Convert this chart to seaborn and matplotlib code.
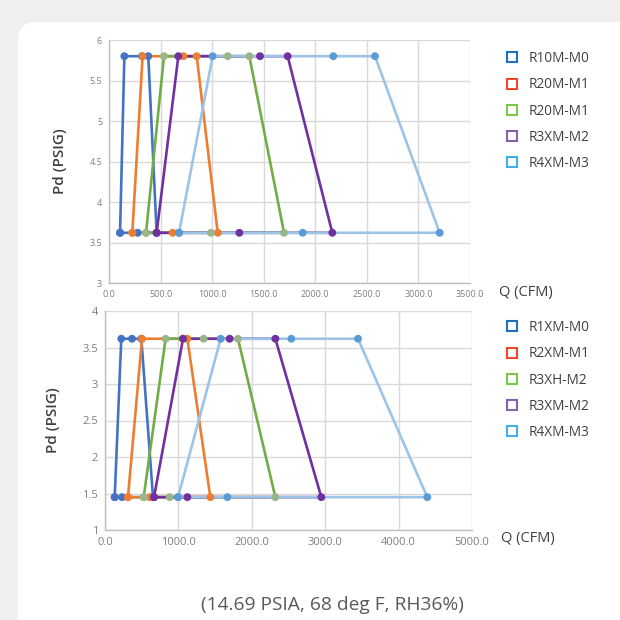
import matplotlib
matplotlib.use("Agg")
import matplotlib.pyplot as plt
from matplotlib.lines import Line2D
from matplotlib.patches import FancyBboxPatch
from matplotlib.ticker import MultipleLocator, FuncFormatter
import seaborn as sns
import pandas as pd

# --- data ---
# each series: bottom-left, top-left, top-mid, top-right, bottom-right, bottom-mid
top_series = ["R10M-M0", "R20M-M1", "R20M-M1 ", "R3XM-M2", "R4XM-M3"]
top_labels = ["R10M-M0", "R20M-M1", "R20M-M1", "R3XM-M2", "R4XM-M3"]
top_q = [
    [107, 149, 320, 381, 462, 278],
    [226, 326, 721, 850, 1054, 617],
    [359, 533, 1151, 1361, 1697, 989],
    [462, 672, 1464, 1732, 2165, 1264],
    [679, 1005, 2175, 2579, 3206, 1878],
]
top_pd_low = 3.62
top_pd_high = 5.8

bot_series = ["R1XM-M0", "R2XM-M1", "R3XH-M2", "R3XM-M2", "R4XM-M3"]
bot_q = [
    [132, 222, 368, 495, 654, 232],
    [313, 504, 1062, 1122, 1435, 609],
    [527, 826, 1344, 1812, 2321, 881],
    [668, 1063, 1698, 2321, 2947, 1122],
    [995, 1576, 2539, 3447, 4391, 1667],
]
bot_pd_low = 1.45
bot_pd_high = 3.62

line_colors = ["#4472c4", "#ed7d31", "#70ad47", "#7030a0", "#9dc3e6"]
marker_colors = ["#4472c4", "#ed7d31", "#9bb58a", "#7030a0", "#5b9bd5"]
legend_colors = ["#1f6fc0", "#f0472f", "#7cc84a", "#8264ac", "#3fb0ea"]


def build_frame(names, qs, low, high):
    rows = []
    levels = [low, high, high, high, low, low]
    for name, q in zip(names, qs):
        pts = list(zip(q, levels)) + [(q[0], low)]
        for i, (x, y) in enumerate(pts):
            rows.append({"series": name, "Q": x, "Pd": y, "order": i})
    return pd.DataFrame(rows)


df_top = build_frame(top_series, top_q, top_pd_low, top_pd_high)
df_bot = build_frame(bot_series, bot_q, bot_pd_low, bot_pd_high)

sns.set_style("white")
plt.rcParams["font.family"] = ["Open Sans", "DejaVu Sans"]

fig = plt.figure(figsize=(6.2, 6.2), dpi=100)
fig.patch.set_facecolor("#efefef")
card = FancyBboxPatch((18 / 620, -0.1), 1.1, 1 - 22 / 620 + 0.1,
                      boxstyle="round,pad=0,rounding_size=0.03",
                      transform=fig.transFigure, facecolor="white",
                      edgecolor="none", zorder=-10)
fig.patches.append(card)

ax1 = fig.add_axes([109 / 620, 1 - 283 / 620, 361 / 620, 243 / 620])
ax2 = fig.add_axes([105 / 620, 1 - 530 / 620, 367 / 620, 219 / 620])


def draw(ax, df, names, xmax, xstep, ymin, ymax, tick_fs):
    palette = dict(zip(names, line_colors))
    sns.lineplot(data=df, x="Q", y="Pd", hue="series", units="series",
                 estimator=None, sort=False, palette=palette, linewidth=1.9,
                 legend=False, ax=ax, zorder=3)
    for name, mc in zip(names, marker_colors):
        sub = df[df["series"] == name]
        sns.scatterplot(data=sub, x="Q", y="Pd", color=mc, s=32,
                        edgecolor="none", ax=ax, zorder=4, legend=False)
    ax.set_xlim(0, xmax)
    ax.set_ylim(ymin, ymax)
    ax.set_facecolor("none")
    ax.xaxis.set_major_locator(MultipleLocator(xstep))
    ax.xaxis.set_minor_locator(MultipleLocator(xstep / 5))
    ax.yaxis.set_major_locator(MultipleLocator(0.5))
    ax.yaxis.set_minor_locator(MultipleLocator(0.1))
    ax.xaxis.set_major_formatter(FuncFormatter(lambda v, p: f"{v:.1f}"))
    ax.yaxis.set_major_formatter(FuncFormatter(lambda v, p: f"{v:g}"))
    ax.grid(True, which="major", color="#d9d9d9", linewidth=1)
    for s in ["top", "right"]:
        ax.spines[s].set_visible(False)
    for s in ["left", "bottom"]:
        ax.spines[s].set_color("#bfbfbf")
        ax.spines[s].set_linewidth(1)
    ax.tick_params(which="major", length=0, labelsize=tick_fs,
                   labelcolor="#7f7f7f", pad=5)
    ax.tick_params(which="minor", direction="in", length=3, color="#bfbfbf")
    ax.set_xlabel("")
    ax.set_ylabel("Pd (PSIG)", fontsize=11, color="#404040",
                  fontweight="semibold", labelpad=16)
    ax.text(1.08, -0.04, "Q (CFM)", transform=ax.transAxes, fontsize=10.5,
            color="#404040", ha="left", va="center")


draw(ax1, df_top, top_series, 3500, 500, 3, 6, 6.5)
draw(ax2, df_bot, bot_series, 5000, 1000, 1, 4, 8)


def add_legend(ax, labels, y_anchor):
    handles = [Line2D([], [], linestyle="none", marker="s", markersize=6.5,
                      markerfacecolor="white", markeredgecolor=c,
                      markeredgewidth=1.5) for c in legend_colors]
    fig.legend(handles, labels, loc="upper left",
               bbox_to_anchor=(492 / 620, y_anchor), frameon=False,
               fontsize=9.8, labelcolor="#404040", labelspacing=0.82,
               handletextpad=0.6, handlelength=1.2)


add_legend(ax1, top_labels, 1 - 39 / 620)
add_legend(ax2, bot_series, 1 - 308 / 620)

fig.text(332 / 620, 1 - 605 / 620, "(14.69 PSIA, 68 deg F, RH36%)", ha="center",
         va="center", fontsize=13.8, color="#595959")

fig.savefig("out.png", dpi=100, facecolor=fig.get_facecolor())
